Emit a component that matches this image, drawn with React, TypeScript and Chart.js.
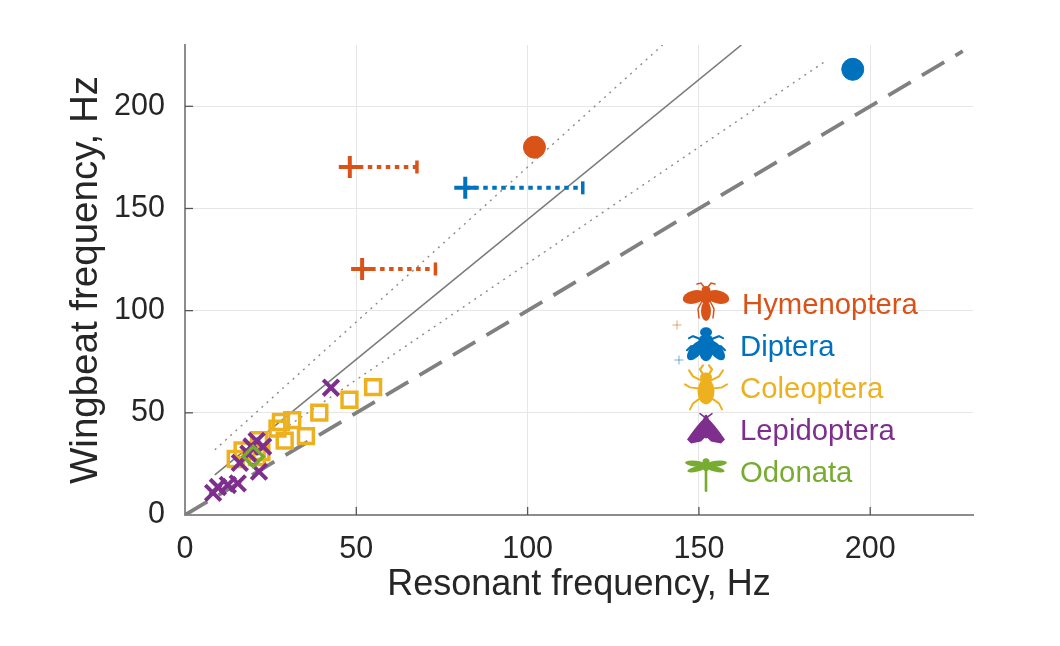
import React, { useEffect, useRef } from 'react';
import { Chart, registerables } from 'chart.js';

Chart.register(...registerables);

const ORANGE = '#D95319';
const BLUE = '#0072BD';
const YELLOW = '#EDB120';
const PURPLE = '#7E2F8E';
const GREEN = '#77AC30';
const FONT = "'Liberation Sans', Arial, Helvetica, sans-serif";

const AXIS_MIN = 0;
const AXIS_MAX = 230;
const TICK_STEP = 50;
const xTickValues = [50, 100, 150, 200];
const yTickValues = [50, 100, 150, 200];
const xTitle = 'Resonant frequency, Hz';
const yTitle = 'Wingbeat frequency, Hz';

const hymenopteraCircle = [{ x: 102, y: 180 }];
const hymenopteraPlus = [
  { x: 48.1, y: 170.3 },
  { x: 51.7, y: 120.4 },
];
const hymenopteraBarEnd = [67.7, 73.1];

const dipteraCircle = [{ x: 194.9, y: 218.1 }];
const dipteraPlus = [{ x: 81.8, y: 160.1 }];
const dipteraBarEnd = [116.1];

const coleoptera = [
  { x: 54.9, y: 62.6 },
  { x: 48.0, y: 56.4 },
  { x: 39.2, y: 50.1 },
  { x: 31.3, y: 46.4 },
  { x: 28.0, y: 45.5 },
  { x: 27.0, y: 42.3 },
  { x: 35.3, y: 38.6 },
  { x: 29.1, y: 36.4 },
  { x: 21.6, y: 36.6 },
  { x: 16.8, y: 31.6 },
  { x: 14.8, y: 27.4 },
  { x: 22.3, y: 30.8 },
  { x: 21.0, y: 28.4 },
];

const lepidoptera = [
  { x: 8.2, y: 10.8 },
  { x: 9.6, y: 13.7 },
  { x: 12.5, y: 14.7 },
  { x: 15.4, y: 15.5 },
  { x: 21.6, y: 21.2 },
  { x: 16.0, y: 25.5 },
  { x: 18.5, y: 30.0 },
  { x: 19.4, y: 33.5 },
  { x: 20.9, y: 36.3 },
  { x: 22.8, y: 33.5 },
  { x: 42.6, y: 62.3 },
];

const odonata = [{ x: 19.9, y: 28.6 }];

const identityLine = [
  { x: 0, y: 0 },
  { x: 227, y: 227 },
];
const fitLine = [
  { x: 8.7, y: 19.6 },
  { x: 162.4, y: 230 },
];
const upperBound = [
  { x: 8.7, y: 31.9 },
  { x: 139.4, y: 230 },
];
const lowerBound = [
  { x: 27, y: 40 },
  { x: 186.6, y: 221.7 },
];

const legendNames = ['Hymenoptera', 'Diptera', 'Coleoptera', 'Lepidoptera', 'Odonata'];
const legendColors = [ORANGE, BLUE, YELLOW, PURPLE, GREEN];

type Ctx = CanvasRenderingContext2D;

function ell(ctx: Ctx, x: number, y: number, rx: number, ry: number, rot = 0) {
  ctx.beginPath();
  ctx.ellipse(x, y, rx, ry, rot, 0, Math.PI * 2);
  ctx.fill();
}
function seg(ctx: Ctx, pts: number[], w: number) {
  ctx.lineWidth = w;
  ctx.beginPath();
  ctx.moveTo(pts[0], pts[1]);
  for (let i = 2; i < pts.length; i += 2) ctx.lineTo(pts[i], pts[i + 1]);
  ctx.stroke();
}

function drawBee(ctx: Ctx, cx: number, cy: number) {
  ell(ctx, cx - 12, cy - 6, 11.5, 6.5, -0.25);
  ell(ctx, cx + 12, cy - 6, 11.5, 6.5, 0.25);
  ell(ctx, cx, cy - 13, 4.5, 4);
  ell(ctx, cx, cy - 5, 6, 5.5);
  ell(ctx, cx, cy + 8, 5, 10);
  seg(ctx, [cx - 2, cy - 16, cx - 5, cy - 20, cx - 9, cy - 19], 1.5);
  seg(ctx, [cx + 2, cy - 16, cx + 5, cy - 20, cx + 9, cy - 19], 1.5);
  seg(ctx, [cx - 4, cy - 2, cx - 8, cy + 6, cx - 7, cy + 15], 1.5);
  seg(ctx, [cx + 4, cy - 2, cx + 8, cy + 6, cx + 7, cy + 15], 1.5);
}

function drawFly(ctx: Ctx, cx: number, cy: number) {
  ell(ctx, cx - 10, cy + 5, 6, 12, 0.7);
  ell(ctx, cx + 10, cy + 5, 6, 12, -0.7);
  ell(ctx, cx, cy - 13, 6, 5);
  ell(ctx, cx, cy - 4, 7.5, 7);
  ell(ctx, cx, cy + 7, 6.5, 9);
  seg(ctx, [cx - 5, cy - 6, cx - 13, cy - 9, cx - 17, cy - 7], 2);
  seg(ctx, [cx + 5, cy - 6, cx + 13, cy - 9, cx + 17, cy - 7], 2);
  seg(ctx, [cx - 5, cy, cx - 15, cy + 1, cx - 19, cy + 5], 2);
  seg(ctx, [cx + 5, cy, cx + 15, cy + 1, cx + 19, cy + 5], 2);
}

function drawBeetle(ctx: Ctx, cx: number, cy: number) {
  ell(ctx, cx, cy + 4, 8.5, 13);
  ell(ctx, cx, cy - 10, 6, 5);
  seg(ctx, [cx - 3, cy - 13, cx - 6, cy - 18, cx - 3, cy - 22], 2.2);
  seg(ctx, [cx + 3, cy - 13, cx + 6, cy - 18, cx + 3, cy - 22], 2.2);
  seg(ctx, [cx - 5, cy - 7, cx - 13, cy - 11, cx - 17, cy - 17], 2);
  seg(ctx, [cx + 5, cy - 7, cx + 13, cy - 11, cx + 17, cy - 17], 2);
  seg(ctx, [cx - 7, cy + 1, cx - 16, cy, cx - 21, cy - 3], 2);
  seg(ctx, [cx + 7, cy + 1, cx + 16, cy, cx + 21, cy - 3], 2);
  seg(ctx, [cx - 6, cy + 11, cx - 13, cy + 16, cx - 16, cy + 22], 2);
  seg(ctx, [cx + 6, cy + 11, cx + 13, cy + 16, cx + 16, cy + 22], 2);
}

function drawMoth(ctx: Ctx, cx: number, cy: number) {
  ctx.beginPath();
  ctx.moveTo(cx, cy - 13);
  ctx.quadraticCurveTo(cx - 8, cy - 6, cx - 19, cy + 10);
  ctx.lineTo(cx - 15, cy + 14);
  ctx.lineTo(cx - 5, cy + 12);
  ctx.lineTo(cx, cy + 7);
  ctx.lineTo(cx + 5, cy + 12);
  ctx.lineTo(cx + 15, cy + 14);
  ctx.lineTo(cx + 19, cy + 10);
  ctx.quadraticCurveTo(cx + 8, cy - 6, cx, cy - 13);
  ctx.closePath();
  ctx.fill();
  ell(ctx, cx, cy - 3, 3.5, 12);
  seg(ctx, [cx - 2, cy - 13, cx - 6, cy - 16], 1.5);
  seg(ctx, [cx + 2, cy - 13, cx + 6, cy - 16], 1.5);
}

function drawDragonfly(ctx: Ctx, cx: number, cy: number) {
  ell(ctx, cx - 10, cy - 8, 11, 3, 0.12);
  ell(ctx, cx + 10, cy - 8, 11, 3, -0.12);
  ell(ctx, cx - 9, cy - 3, 10, 2.7, -0.25);
  ell(ctx, cx + 9, cy - 3, 10, 2.7, 0.25);
  ell(ctx, cx, cy - 10, 3.5, 3.5);
  ell(ctx, cx, cy - 5, 3, 4.5);
  seg(ctx, [cx, cy - 3, cx, cy + 19], 2.6);
}

const iconDrawers = [drawBee, drawFly, drawBeetle, drawMoth, drawDragonfly];

const overlayPlugin = {
  id: 'overlay',
  afterDatasetsDraw(chart: any) {
    const ctx: Ctx = chart.ctx;
    const xs = chart.scales.x;
    const ys = chart.scales.y;
    const area = chart.chartArea;
    ctx.save();
    // inward tick marks
    ctx.strokeStyle = '#555555';
    ctx.lineWidth = 1.3;
    xTickValues.forEach((v) => {
      const px = xs.getPixelForValue(v);
      ctx.beginPath();
      ctx.moveTo(px, area.bottom);
      ctx.lineTo(px, area.bottom - 8);
      ctx.stroke();
    });
    yTickValues.forEach((v) => {
      const py = ys.getPixelForValue(v);
      ctx.beginPath();
      ctx.moveTo(area.left, py);
      ctx.lineTo(area.left + 8, py);
      ctx.stroke();
    });

    // legend
    const iconX = area.right - 267;
    const textX = area.right - 233;
    const rowTop = area.top + 258;
    const rowStep = 42.2;
    legendNames.forEach((name, i) => {
      const cy = rowTop + i * rowStep;
      ctx.fillStyle = legendColors[i];
      ctx.strokeStyle = legendColors[i];
      ctx.lineCap = 'round';
      iconDrawers[i](ctx, iconX, cy);
      ctx.lineCap = 'butt';
      ctx.font = `29.3px ${FONT}`;
      ctx.textAlign = 'left';
      ctx.textBaseline = 'alphabetic';
      ctx.fillText(name, textX + (i === 0 ? 2 : 0), cy + 10.5);
    });
    // small legend pluses
    const plusMarks = [
      { x: iconX - 29, y: rowTop + 22, c: 'rgba(217,83,25,0.55)' },
      { x: iconX - 27, y: rowTop + 57, c: 'rgba(0,114,189,0.55)' },
    ];
    ctx.lineWidth = 1;
    plusMarks.forEach((p) => {
      ctx.strokeStyle = p.c;
      ctx.beginPath();
      ctx.moveTo(p.x - 4.5, p.y);
      ctx.lineTo(p.x + 4.5, p.y);
      ctx.moveTo(p.x, p.y - 4.5);
      ctx.lineTo(p.x, p.y + 4.5);
      ctx.stroke();
    });
    ctx.restore();
  },
};

function lineSet(data: any[], color: string, width: number, dash: number[], order: number) {
  return {
    type: 'scatter' as const,
    data,
    showLine: true,
    borderColor: color,
    borderWidth: width,
    borderDash: dash,
    pointRadius: 0,
    fill: false,
    order,
  };
}

function errorBarSets(plus: { x: number; y: number }[], ends: number[], color: string) {
  return plus.map((p, i) => ({
    type: 'scatter' as const,
    data: [
      { x: p.x, y: p.y },
      { x: ends[i], y: p.y },
    ],
    showLine: true,
    borderColor: color,
    borderWidth: 4,
    borderDash: [4.5, 4.5],
    pointRadius: [0, 6.5],
    pointStyle: 'line',
    rotation: 90,
    pointBorderColor: color,
    pointBorderWidth: 3.5,
    order: 5,
  }));
}

export default function App() {
  const canvasRef = useRef<HTMLCanvasElement | null>(null);

  useEffect(() => {
    document.body.style.margin = '0';
    const canvas = canvasRef.current;
    if (!canvas) return;

    const tickFont = { family: FONT, size: 30.5 };

    const chart = new Chart(canvas, {
      type: 'scatter',
      data: {
        datasets: [
          lineSet(identityLine, '#808080', 3.8, [26, 13], 20),
          lineSet(fitLine, '#7a7a7a', 1.6, [], 19),
          lineSet(upperBound, '#8a8a8a', 1.4, [2, 5], 18),
          lineSet(lowerBound, '#8a8a8a', 1.4, [2, 5], 18),
          ...errorBarSets(hymenopteraPlus, hymenopteraBarEnd, ORANGE),
          ...errorBarSets(dipteraPlus, dipteraBarEnd, BLUE),
          {
            label: 'Hymenoptera plus',
            data: hymenopteraPlus,
            pointStyle: 'cross',
            pointRadius: 11,
            pointBorderWidth: 4,
            borderColor: ORANGE,
            backgroundColor: ORANGE,
            order: 2,
          },
          {
            label: 'Diptera plus',
            data: dipteraPlus,
            pointStyle: 'cross',
            pointRadius: 11,
            pointBorderWidth: 4,
            borderColor: BLUE,
            backgroundColor: BLUE,
            order: 2,
          },
          {
            label: 'Hymenoptera',
            data: hymenopteraCircle,
            pointStyle: 'circle',
            pointRadius: 11,
            pointBorderWidth: 1,
            borderColor: ORANGE,
            backgroundColor: ORANGE,
            order: 2,
          },
          {
            label: 'Diptera',
            data: dipteraCircle,
            pointStyle: 'circle',
            pointRadius: 11,
            pointBorderWidth: 1,
            borderColor: BLUE,
            backgroundColor: BLUE,
            order: 2,
          },
          {
            label: 'Coleoptera',
            data: coleoptera,
            pointStyle: 'rect',
            pointRadius: 10.5,
            pointBorderWidth: 3.5,
            borderColor: YELLOW,
            backgroundColor: 'rgba(0,0,0,0)',
            order: 4,
          },
          {
            label: 'Lepidoptera',
            data: lepidoptera,
            pointStyle: 'crossRot',
            pointRadius: 11,
            pointBorderWidth: 4,
            borderColor: PURPLE,
            backgroundColor: PURPLE,
            order: 3,
          },
          {
            label: 'Odonata',
            data: odonata,
            pointStyle: 'rectRot',
            pointRadius: 10,
            pointBorderWidth: 3.5,
            borderColor: GREEN,
            backgroundColor: 'rgba(0,0,0,0)',
            order: 1,
          },
        ] as any,
      },
      options: {
        animation: false,
        responsive: false,
        events: [],
        layout: { padding: { left: 0, top: 45, right: 87, bottom: 0 } },
        plugins: {
          legend: { display: false },
          tooltip: { enabled: false },
        },
        scales: {
          x: {
            type: 'linear',
            min: AXIS_MIN,
            max: AXIS_MAX,
            afterFit: (s: any) => {
              s.height = 131;
            },
            ticks: {
              stepSize: TICK_STEP,
              includeBounds: false,
              padding: 16,
              maxRotation: 0,
              font: tickFont,
              color: '#262626',
            },
            grid: { color: '#e6e6e6', lineWidth: 1, drawTicks: false },
            border: { display: true, color: '#8c8c8c', width: 2 },
            title: {
              display: true,
              text: xTitle,
              font: { family: FONT, size: 36 },
              color: '#262626',
              padding: { top: 0, bottom: 39 },
            },
          },
          y: {
            type: 'linear',
            min: AXIS_MIN,
            max: AXIS_MAX,
            afterFit: (s: any) => {
              s.width = 185;
            },
            ticks: {
              stepSize: TICK_STEP,
              includeBounds: false,
              padding: 20,
              font: tickFont,
              color: '#262626',
            },
            grid: { color: '#e6e6e6', lineWidth: 1, drawTicks: false },
            border: { display: true, color: '#8c8c8c', width: 2 },
            title: {
              display: true,
              text: yTitle,
              font: { family: FONT, size: 38.5 },
              color: '#262626',
              padding: { top: 63, bottom: 0 },
            },
          },
        },
      } as any,
      plugins: [overlayPlugin],
    });

    return () => {
      chart.destroy();
    };
  }, []);

  return (
    <div style={{ width: 1060, height: 646, background: '#ffffff' }}>
      <canvas ref={canvasRef} width={1060} height={646} />
    </div>
  );
}
